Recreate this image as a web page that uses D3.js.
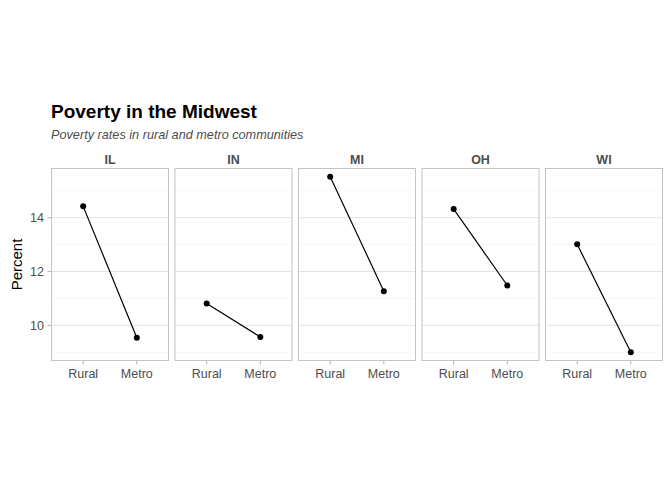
<!DOCTYPE html>
<html><head><meta charset="utf-8">
<script src="https://cdn.jsdelivr.net/npm/d3@7"></script>
<style>body{margin:0;background:#fff}svg{display:block}text{font-family:"Liberation Sans",Arial,Helvetica,sans-serif}</style>
</head><body><svg id="c" width="672" height="480"></svg>
<script>
const states = ["IL","IN","MI","OH","WI"];
const categories = ["Rural","Metro"];
const rural = [14.42, 10.81, 15.52, 14.32, 13.01];
const metro = [9.54, 9.57, 11.27, 11.48, 9.0];
const yTicks = [10, 12, 14];
const yMinor = [9, 11, 13, 15];

(function(){
const svg = d3.select("#c");
const pLeft = 51, pRight = 663, pTop = 168, pBottom = 361, gap = 5.5;
const pw = (pRight - pLeft - gap * (states.length - 1)) / states.length;

const all = rural.concat(metro);
const lo = d3.min(all), hi = d3.max(all), ex = (hi - lo) * 0.05;
const y = d3.scaleLinear().domain([lo - ex, hi + ex]).range([pBottom, pTop]);
const xpts = d3.scalePoint().domain(categories).range([0, pw]).padding(0.6);

svg.append("text").attr("x", pLeft).attr("y", 118).attr("font-size", 19).attr("font-weight", "bold").attr("fill", "#000").text("Poverty in the Midwest");
svg.append("text").attr("x", pLeft).attr("y", 139).attr("font-size", 12.7).attr("font-style", "italic").attr("fill", "#4d4d4d").text("Poverty rates in rural and metro communities");

svg.append("text").attr("transform", `translate(22,${(pTop+pBottom)/2}) rotate(-90)`).attr("text-anchor", "middle").attr("font-size", 15).attr("fill", "#000").text("Percent");

yTicks.forEach(t => {
  svg.append("text").attr("x", 44).attr("y", y(t)).attr("dy", "0.35em").attr("text-anchor", "end").attr("font-size", 12.5).attr("fill", "#4d4d4d").text(t);
  svg.append("line").attr("x1", 47.5).attr("x2", pLeft).attr("y1", y(t)).attr("y2", y(t)).attr("stroke", "#b3b3b3").attr("stroke-width", 1);
});

states.forEach((s, i) => {
  const x0 = pLeft + i * (pw + gap);
  const g = svg.append("g").attr("transform", `translate(${x0},0)`);
  yMinor.forEach(t => g.append("line").attr("x1", 0).attr("x2", pw).attr("y1", y(t)).attr("y2", y(t)).attr("stroke", "#f0f0f0").attr("stroke-width", 0.6));
  yTicks.forEach(t => g.append("line").attr("x1", 0).attr("x2", pw).attr("y1", y(t)).attr("y2", y(t)).attr("stroke", "#e3e3e3").attr("stroke-width", 1));
  g.append("rect").attr("x", 0.5).attr("y", pTop + 0.5).attr("width", pw - 1).attr("height", pBottom - pTop - 1).attr("fill", "none").attr("stroke", "#c4c4c4").attr("stroke-width", 1);
  g.append("text").attr("x", pw / 2).attr("y", 164).attr("text-anchor", "middle").attr("font-size", 12.5).attr("font-weight", "bold").attr("fill", "#4d4d4d").text(s);
  const pts = [[categories[0], rural[i]], [categories[1], metro[i]]];
  g.append("path").attr("d", d3.line().x(d => xpts(d[0])).y(d => y(d[1]))(pts)).attr("stroke", "#000").attr("stroke-width", 1.2).attr("fill", "none");
  g.selectAll("circle").data(pts).join("circle").attr("cx", d => xpts(d[0])).attr("cy", d => y(d[1])).attr("r", 3).attr("fill", "#000");
  categories.forEach(c => {
    g.append("line").attr("x1", xpts(c)).attr("x2", xpts(c)).attr("y1", pBottom).attr("y2", pBottom + 3.5).attr("stroke", "#b3b3b3");
    g.append("text").attr("x", xpts(c)).attr("y", 378).attr("text-anchor", "middle").attr("font-size", 12.5).attr("fill", "#4d4d4d").text(c);
  });
});
})();
</script></body></html>
